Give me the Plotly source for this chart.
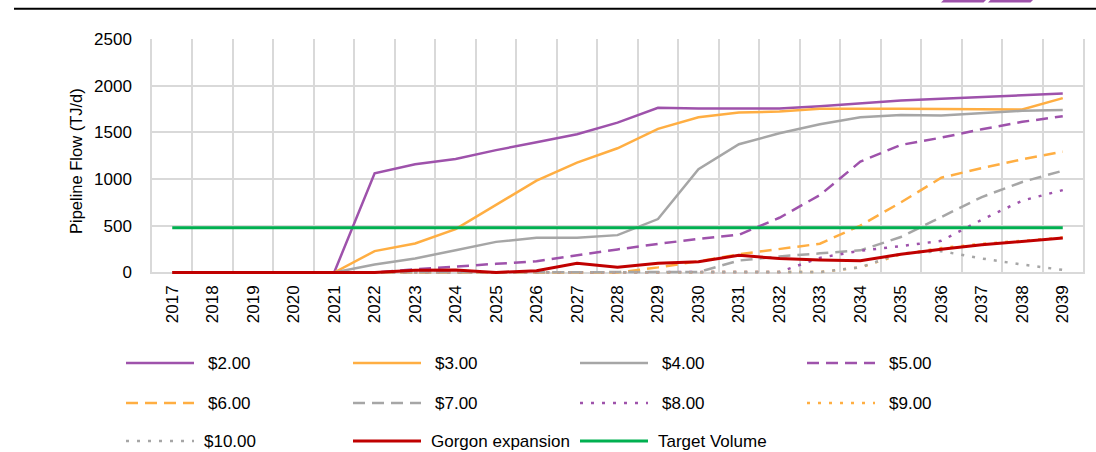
import plotly.graph_objects as go

# ---------------- data ----------------
years = [str(y) for y in range(2017, 2040)]

p2 = [0, 0, 0, 0, 0, 1062, 1159, 1216, 1310, 1395, 1481, 1605, 1763, 1755, 1755, 1755, 1781, 1813, 1841, 1859, 1881, 1899, 1917]
p3 = [0, 0, 0, 0, 0, 229, 311, 465, 722, 983, 1176, 1330, 1538, 1663, 1713, 1723, 1752, 1755, 1752, 1750, 1750, 1745, 1867]
p4 = [0, 0, 0, 0, 0, 86, 150, 239, 328, 371, 371, 400, 572, 1105, 1373, 1491, 1588, 1663, 1685, 1681, 1706, 1731, 1741]
p5 = [0, 0, 0, 0, 0, 0, 35, 67, 93, 120, 186, 247, 306, 360, 404, 586, 829, 1187, 1366, 1444, 1534, 1613, 1674]
p6 = [0, 0, 0, 0, 0, 0, 0, 0, 0, 0, 0, 0, 55, 120, 195, 250, 308, 503, 750, 1015, 1118, 1212, 1293]
p7 = [0, 0, 0, 0, 0, 0, 0, 0, 0, 0, 0, 0, 0, 5, 128, 172, 205, 237, 380, 593, 808, 969, 1090]
p8 = [0, 0, 0, 0, 0, 0, 0, 0, 0, 0, 0, 0, 0, 0, 0, 5, 157, 233, 282, 339, 565, 770, 882]
p9 = [0, 0, 0, 0, 0, 0, 0, 0, 0, 0, 0, 0, 0, 0, 0, 0, 5, 55, 195, 262, 307, 340, 374]
p10 = [0, 0, 0, 0, 0, 0, 0, 0, 0, 0, 0, 0, 0, 0, 0, 0, 5, 55, 205, 228, 150, 85, 28]
gorgon = [0, 0, 0, 0, 0, 0, 25, 28, 0, 20, 100, 57, 100, 115, 184, 150, 135, 127, 195, 250, 296, 336, 369]
target = [480] * 23

series_names = ["$2.00", "$3.00", "$4.00", "$5.00", "$6.00", "$7.00", "$8.00", "$9.00", "$10.00",
                "Gorgon expansion", "Target Volume"]
series_values = [p2, p3, p4, p5, p6, p7, p8, p9, p10, gorgon, target]

y_ticks = [0, 500, 1000, 1500, 2000, 2500]
y_title = "Pipeline Flow (TJ/d)"

# ---------------- styles ----------------
PURPLE = "#9E52AB"
ORANGE = "#FFAE42"
GREY = "#A6A6A6"
RED = "#C00000"
GREEN = "#00B050"
DASH = "12px,7px"
DOT = "3px,8px"
styles = [
    (PURPLE, "solid", 2.5), (ORANGE, "solid", 2.5), (GREY, "solid", 2.5),
    (PURPLE, DASH, 2.5), (ORANGE, DASH, 2.5), (GREY, DASH, 2.5),
    (PURPLE, DOT, 2.5), (ORANGE, DOT, 2.5), (GREY, DOT, 2.5),
    (RED, "solid", 3), (GREEN, "solid", 3),
]

FONT = "Liberation Sans Narrow, Arial Narrow, Liberation Sans, Arial, sans-serif"
FS = 17

W, H = 1096, 452
L, R, T, B = 152, 13, 39, 178
PW = W - L - R
PH = H - T - B


def px(x):
    return (x - L) / PW


def py(y):
    return (H - B - y) / PH


fig = go.Figure()
for name, vals, (col, dash, wd) in zip(series_names, series_values, styles):
    fig.add_trace(go.Scatter(
        x=years, y=vals, name=name, mode="lines",
        line=dict(color=col, width=wd, dash=dash),
        showlegend=False, hoverinfo="skip",
    ))

shapes = []
annotations = []

# top rule and cut-off logo
shapes.append(dict(type="line", xref="paper", yref="paper", x0=px(14), x1=px(1096),
                   y0=py(8.7), y1=py(8.7), line=dict(color="black", width=2)))
for xa, xb in [(941, 986), (988, 1033)]:
    path = "M{},{} L{},{} L{},{} L{},{} Z".format(
        px(xa), py(2.4), px(xa + 2.5), py(0), px(xb), py(0), px(xb - 2.5), py(2.4))
    shapes.append(dict(type="path", xref="paper", yref="paper", path=path,
                       fillcolor=PURPLE, line=dict(width=0)))

# manual legend
row_y = [363, 403, 441]
col_x = [126, 353, 580, 807]
for i, (name, (col, dash, wd)) in enumerate(zip(series_names, styles)):
    r, c = divmod(i, 4)
    x0 = col_x[c]
    yy = row_y[r]
    shapes.append(dict(type="line", xref="paper", yref="paper",
                       x0=px(x0), x1=px(x0 + 68), y0=py(yy), y1=py(yy),
                       line=dict(color=col, width=wd, dash=dash)))
    tx = x0 + 80 if r < 2 else x0 + 76
    annotations.append(dict(xref="paper", yref="paper", x=px(tx), y=py(yy),
                            text=name, showarrow=False, xanchor="left", yanchor="middle",
                            font=dict(family=FONT, size=FS, color="black")))

# y-axis title
annotations.append(dict(xref="paper", yref="paper", x=px(76), y=py(161), text=y_title,
                        showarrow=False, textangle=-90, xanchor="center", yanchor="middle",
                        font=dict(family=FONT, size=16.5, color="black")))

fig.update_layout(
    width=W, height=H,
    margin=dict(l=L, r=R, t=T, b=B, pad=0),
    paper_bgcolor="white", plot_bgcolor="white",
    font=dict(family=FONT, size=FS, color="black"),
    showlegend=False,
    shapes=shapes, annotations=annotations,
    xaxis=dict(type="category", categoryorder="array", categoryarray=years,
               range=[-0.5, len(years) - 0.5], tickson="boundaries",
               showgrid=True, gridcolor="#D9D9D9", gridwidth=1.5,
               showline=False, zeroline=False, ticks="", tickangle=-90,
               ticklabelstandoff=7, layer="below traces",
               tickfont=dict(family=FONT, size=FS, color="black")),
    yaxis=dict(range=[-16, 2500], tickvals=y_ticks, ticktext=[str(v) for v in y_ticks],
               showgrid=True, gridcolor="#D9D9D9", gridwidth=1.5,
               showline=True, mirror=True, linecolor="#D9D9D9", linewidth=1.5,
               zeroline=False, ticks="", ticklabelstandoff=15, layer="below traces",
               tickfont=dict(family=FONT, size=FS, color="black")),
)

fig.write_html("out.html", config={"displayModeBar": False},
               post_script="document.body.style.margin='0';document.body.style.overflow='hidden';")
